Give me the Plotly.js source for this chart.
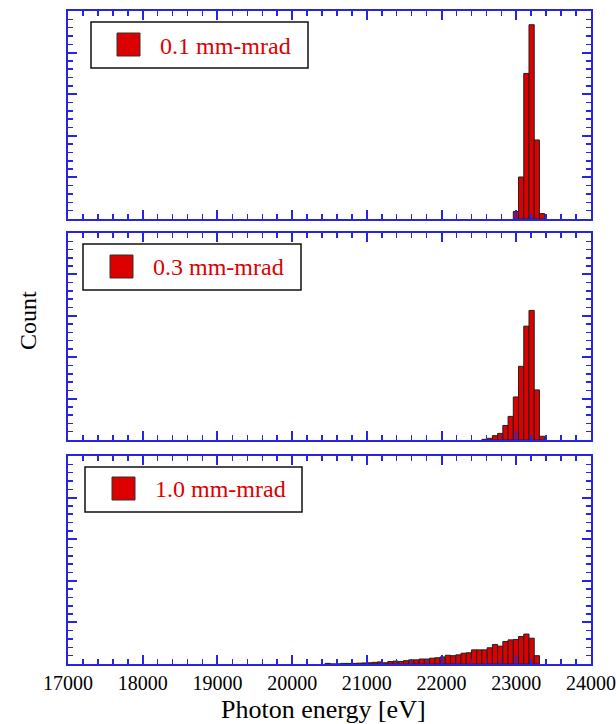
<!DOCTYPE html>
<html>
<head>
<meta charset="utf-8">
<script src="https://cdn.plot.ly/plotly-3.0.1.min.js"></script>
<style>html,body{margin:0;padding:0;background:#fff;}#chart{width:616px;height:724px;}</style>
</head>
<body>
<div id="chart"></div>
<script>
// ---- data (bin centres in eV, counts in arbitrary units) ----
const labels = ["0.1 mm-mrad", "0.3 mm-mrad", "1.0 mm-mrad"];

const e1 = [22995, 23065, 23135, 23205, 23275, 23345];
const c1 = [18, 101, 350, 467, 190, 13];

const e2 = [22575, 22645, 22715, 22785, 22855, 22925, 22995, 23065, 23135, 23205, 23275, 23345];
const c2 = [1.6, 4, 10.5, 16, 35, 57, 104, 178, 275, 313, 121, 9];

const e3 = [20475, 20545, 20615, 20685, 20755, 20825, 20895, 20965, 21035, 21105,
            21175, 21245, 21315, 21385, 21455, 21525, 21595, 21665, 21735, 21805,
            21875, 21945, 22015, 22085, 22155, 22225, 22295, 22365, 22435, 22505,
            22575, 22645, 22715, 22785, 22855, 22925, 22995, 23065, 23135, 23205, 23275];
const c3 = [1.5, 0, 0, 1.5, 1.5, 1.5, 2, 2.5, 3, 4,
            5, 3, 6, 7, 6, 8, 10, 10, 12, 12,
            14, 15, 17, 21, 20, 22, 26, 27, 34, 34,
            34, 39, 47, 43, 54, 58, 59, 66, 72, 62, 20];

const xTickVals = [17000, 18000, 19000, 20000, 21000, 22000, 23000, 24000];
const xTickText = ["17000", "18000", "19000", "20000", "21000", "22000", "23000", "24000"];
const xTitle = "Photon energy [eV]";
const yTitle = "Count";

// ---- styling ----
const W = 616, H = 724;
const M = {l: 68, r: 25, t: 11, b: 60};
const PW = W - M.l - M.r, PH = H - M.t - M.b;
const blue = '#2626e2';
const red = '#dd0000';
const serif = 'Liberation Serif, Times New Roman, serif';
const binW = 70;

function px(x) { return (x - M.l) / PW; }
function py(y) { return (H - M.b - y) / PH; }

function barTrace(x, y, xa, ya) {
  return {type: 'bar', x: x, y: y, width: binW, xaxis: xa, yaxis: ya,
    marker: {color: red, line: {color: '#222', width: 1}}, showlegend: false, hoverinfo: 'x+y'};
}

const traces = [
  barTrace(e1, c1, 'x', 'y'),
  barTrace(e2, c2, 'x2', 'y2'),
  barTrace(e3, c3, 'x3', 'y3')
];

function xAxis(anchor, showLabels) {
  return {
    anchor: anchor, range: [17000, 24000], showgrid: false, zeroline: false,
    showline: true, linecolor: blue, linewidth: 2, mirror: 'ticks',
    ticks: 'inside', ticklen: 9, tickwidth: 2, tickcolor: blue,
    tickmode: 'array', tickvals: xTickVals, ticktext: xTickText,
    minor: {ticks: 'inside', ticklen: 5, tickwidth: 1.5, tickcolor: blue, dtick: 200, tick0: 17000, showgrid: false},
    showticklabels: showLabels,
    tickfont: {family: serif, size: 20, color: '#000'}
  };
}
function yAxis(anchor, domain) {
  return {
    anchor: anchor, domain: domain, range: [0, 500], showgrid: false, zeroline: false,
    showline: true, linecolor: blue, linewidth: 2, mirror: 'ticks',
    ticks: 'inside', ticklen: 9, tickwidth: 2, tickcolor: blue,
    tickmode: 'linear', tick0: 0, dtick: 100,
    minor: {ticks: 'inside', ticklen: 5, tickwidth: 1.5, tickcolor: blue, dtick: 20, showgrid: false},
    showticklabels: false
  };
}

// legend boxes (pixel geometry)
const boxes = [
  {box: [91, 22, 308, 68], sq: [117, 33, 140, 56], tx: [158, 46]},
  {box: [83, 244, 301, 290], sq: [110, 255, 133, 278], tx: [151, 267]},
  {box: [85, 467, 302, 512], sq: [112, 477, 135, 500], tx: [153, 489]}
];
const shapes = [], annotations = [];
boxes.forEach((b, i) => {
  shapes.push({type: 'rect', xref: 'paper', yref: 'paper',
    x0: px(b.box[0]), x1: px(b.box[2]), y0: py(b.box[3]), y1: py(b.box[1]),
    line: {color: '#111', width: 1.5}, fillcolor: '#fff', layer: 'above'});
  shapes.push({type: 'rect', xref: 'paper', yref: 'paper',
    x0: px(b.sq[0]), x1: px(b.sq[2]), y0: py(b.sq[3]), y1: py(b.sq[1]),
    line: {color: '#333', width: 1}, fillcolor: red, layer: 'above'});
  annotations.push({xref: 'paper', yref: 'paper', x: px(b.tx[0]), y: py(b.tx[1]),
    xanchor: 'left', yanchor: 'middle', text: labels[i], showarrow: false,
    font: {family: serif, size: 24, color: red}});
});
annotations.push({xref: 'paper', yref: 'paper', x: px(28), y: py(321), text: yTitle,
  textangle: -90, showarrow: false, xanchor: 'center', yanchor: 'middle',
  font: {family: serif, size: 24, color: '#000'}});
annotations.push({xref: 'paper', yref: 'paper', x: px(323), y: py(710), text: xTitle,
  showarrow: false, xanchor: 'center', yanchor: 'middle',
  font: {family: serif, size: 26, color: '#000'}});

const layout = {
  width: W, height: H, margin: M, paper_bgcolor: '#fff', plot_bgcolor: '#fff',
  bargap: 0, showlegend: false,
  xaxis: xAxis('y', false),
  xaxis2: xAxis('y2', false),
  xaxis3: xAxis('y3', true),
  yaxis: yAxis('x', [py(219), 1]),
  yaxis2: yAxis('x2', [py(440), py(233)]),
  yaxis3: yAxis('x3', [0, py(456)]),
  shapes: shapes, annotations: annotations
};

Plotly.newPlot('chart', traces, layout, {displayModeBar: false, staticPlot: true});
</script>
</body>
</html>
